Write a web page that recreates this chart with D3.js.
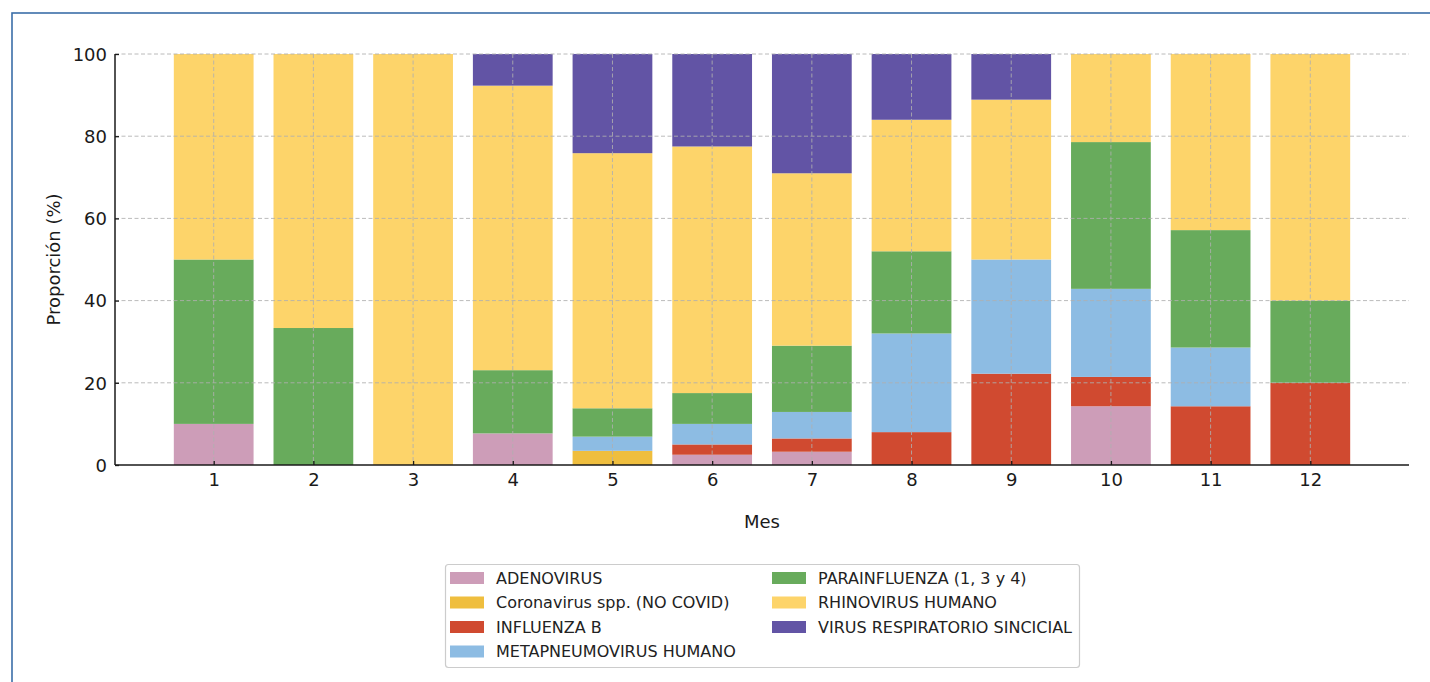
<!DOCTYPE html>
<html><head><meta charset="utf-8">
<script src="https://cdn.jsdelivr.net/npm/d3@7"></script>
<style>body{margin:0;background:#fff;} svg{display:block;font-family:"DejaVu Sans",sans-serif;}</style>
</head><body>
<svg id="chart" width="1430" height="682"></svg>
<script>
const months = ["1","2","3","4","5","6","7","8","9","10","11","12"];
const seriesNames = ["ADENOVIRUS","Coronavirus spp. (NO COVID)","INFLUENZA B","METAPNEUMOVIRUS HUMANO","PARAINFLUENZA (1, 3 y 4)","RHINOVIRUS HUMANO","VIRUS RESPIRATORIO SINCICIAL"];
const colors = ["#cd9db8","#efbe3e","#d04a30","#8dbce3","#68ab5c","#fdd46a","#6254a5"];
const adenovirus   = [10, 0, 0, 7.69, 0, 2.5, 3.23, 0, 0, 14.29, 0, 0];
const coronavirus  = [0, 0, 0, 0, 3.45, 0, 0, 0, 0, 0, 0, 0];
const influenzaB   = [0, 0, 0, 0, 0, 2.5, 3.23, 8, 22.22, 7.14, 14.29, 20];
const metapneumo   = [0, 0, 0, 0, 3.45, 5, 6.45, 24, 27.78, 21.43, 14.29, 0];
const parainfluenza= [40, 33.33, 0, 15.38, 6.9, 7.5, 16.13, 20, 0, 35.71, 28.57, 20];
const rhinovirus   = [50, 66.67, 100, 69.23, 62.07, 60, 41.94, 32, 38.89, 21.43, 42.86, 60];
const vrs          = [0, 0, 0, 7.69, 24.14, 22.5, 29.03, 16, 11.11, 0, 0, 0];
const yTicks = [0, 20, 40, 60, 80, 100];
const seriesValues = [adenovirus, coronavirus, influenzaB, metapneumo, parainfluenza, rhinovirus, vrs];

const svg = d3.select("#chart");
// outer frame
svg.append("rect").attr("x", 12).attr("y", 13).attr("width", 1440).attr("height", 700)
  .attr("fill", "none").attr("stroke", "#3b6ea8").attr("stroke-width", 1.6);

const pL = 115, pR = 1409, pT = 54, pB = 465;
// numeric x scale matching matplotlib limits (0.01 .. 12.99)
const x = d3.scaleLinear().domain([0.01, 12.99]).range([pL, pR]);
const y = d3.scaleLinear().domain([0, 100]).range([pB, pT]);
const barW = x(0.8) - x(0);

const rows = months.map((m, i) => {
  const o = {month: m, idx: i + 1};
  seriesNames.forEach((s, k) => o[s] = seriesValues[k][i]);
  return o;
});
const stacked = d3.stack().keys(seriesNames)(rows);

const g = svg.append("g");
stacked.forEach((layer, k) => {
  g.selectAll(null).data(layer).enter().append("rect")
    .attr("x", d => x(d.data.idx) - barW / 2)
    .attr("width", barW)
    .attr("y", d => y(d[1]))
    .attr("height", d => Math.max(0, y(d[0]) - y(d[1])))
    .attr("fill", colors[k]);
});

// grid on top
const grid = svg.append("g").attr("stroke", "#b0b0b0").attr("stroke-width", 1)
  .attr("stroke-dasharray", "4,2.5").attr("opacity", 0.85);
yTicks.filter(t => t > 0).forEach(t => {
  grid.append("line").attr("x1", pL).attr("x2", pR).attr("y1", y(t)).attr("y2", y(t));
});
months.forEach((m, i) => {
  grid.append("line").attr("x1", x(i + 1)).attr("x2", x(i + 1)).attr("y1", pT).attr("y2", pB);
});

// axes
const yAxis = d3.axisLeft(y).tickValues(yTicks).tickSize(-4).tickPadding(8);
const ya = svg.append("g").attr("transform", `translate(${pL},0)`).call(yAxis);
const xAxis = d3.axisBottom(x).tickValues(months.map((m, i) => i + 1))
  .tickFormat((d, i) => months[i]).tickSize(-4).tickPadding(8);
const xa = svg.append("g").attr("transform", `translate(0,${pB})`).call(xAxis);
[ya, xa].forEach(a => {
  a.selectAll("text").attr("font-size", 18).attr("fill", "#1a1a1a").attr("font-family", "DejaVu Sans");
  a.selectAll("line").attr("stroke", "#1a1a1a").attr("stroke-width", 1.3);
  a.select(".domain").attr("stroke", "#1a1a1a").attr("stroke-width", 1.5);
});
xa.select(".domain").attr("d", `M${pL},0H${pR}`);
ya.select(".domain").attr("d", `M0,${pB}V${pT}`);
ya.selectAll("text").attr("dy", "0.35em");

svg.append("text").attr("transform", `translate(60,${(pT + pB) / 2}) rotate(-90)`)
  .attr("text-anchor", "middle").attr("font-size", 18).attr("fill", "#1a1a1a").text("Proporción (%)");
svg.append("text").attr("x", (pL + pR) / 2).attr("y", 528)
  .attr("text-anchor", "middle").attr("font-size", 18).attr("fill", "#1a1a1a").text("Mes");

// legend
const lg = svg.append("g");
lg.append("rect").attr("x", 445.5).attr("y", 564.5).attr("width", 634).attr("height", 103).attr("rx", 3)
  .attr("fill", "#fff").attr("stroke", "#cccccc").attr("stroke-width", 1.2);
seriesNames.forEach((s, k) => {
  const col = k < 4 ? 0 : 1;
  const row = k < 4 ? k : k - 4;
  const sx = col === 0 ? 450 : 772;
  const cy = 578 + row * 24.5;
  lg.append("rect").attr("x", sx).attr("y", cy - 6).attr("width", 34).attr("height", 12).attr("fill", colors[k]);
  lg.append("text").attr("x", sx + 46).attr("y", cy).attr("dy", "0.35em")
    .attr("font-size", 16).attr("fill", "#222").text(s);
});
</script>
</body></html>
